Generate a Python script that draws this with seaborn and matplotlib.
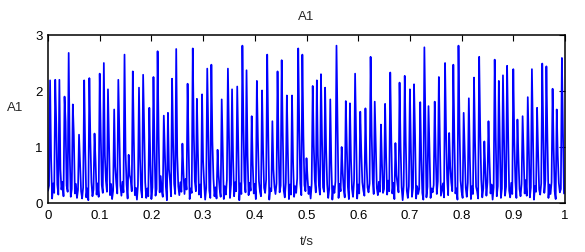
import numpy as np
import pandas as pd
import matplotlib
matplotlib.use("Agg")
import matplotlib.pyplot as plt
import seaborn as sns

# частота дискретизации и фон сигнала (шум около нуля)
fs = 500
baseline = [
    0.22, 0.31, 0.12, 0.28, 0.08, 0.35, 0.18, 0.26, 0.10, 0.33, 0.15, 0.29, 0.06, 0.24, 0.38, 0.12, 0.27, 0.09, 0.31, 0.20, 0.14, 0.36, 0.11, 0.25, 0.07,
    0.30, 0.17, 0.34, 0.09, 0.23, 0.13, 0.39, 0.21, 0.08, 0.28, 0.16, 0.33, 0.10, 0.26, 0.05, 0.31, 0.19, 0.37, 0.12, 0.24, 0.09, 0.29, 0.15, 0.35, 0.11,
    0.27, 0.06, 0.32, 0.18, 0.25, 0.12, 0.40, 0.20, 0.09, 0.30, 0.14, 0.34, 0.07, 0.22, 0.28, 0.11, 0.36, 0.17, 0.26, 0.08, 0.31, 0.13, 0.38, 0.19, 0.10,
    0.24, 0.33, 0.08, 0.29, 0.16, 0.42, 0.21, 0.11, 0.35, 0.14, 0.27, 0.06, 0.32, 0.18, 0.45, 0.23, 0.10, 0.30, 0.15, 0.37, 0.09, 0.26, 0.12, 0.34, 0.20,
    0.07, 0.28, 0.17, 0.41, 0.13, 0.25, 0.09, 0.33, 0.19, 0.48, 0.22, 0.11, 0.36, 0.15, 0.29, 0.05, 0.31, 0.18, 0.40, 0.12, 0.27, 0.08, 0.34, 0.16, 0.23,
    0.10, 0.30, 0.14, 0.37, 0.20, 0.09, 0.28, 0.16, 0.43, 0.24, 0.11, 0.35, 0.07, 0.26, 0.18, 0.32, 0.13, 0.39, 0.21, 0.08, 0.29, 0.15, 0.33, 0.10, 0.25,
    0.17, 0.36, 0.06, 0.27, 0.14, 0.31, 0.22, 0.09, 0.34, 0.19, 0.44, 0.12, 0.28, 0.08, 0.38, 0.16, 0.25, 0.11, 0.32, 0.20, 0.07, 0.30, 0.15, 0.41, 0.13,
    0.26, 0.09, 0.33, 0.18, 0.24, 0.12, 0.37, 0.21, 0.10, 0.29, 0.05, 0.35, 0.16, 0.27, 0.13, 0.40, 0.19, 0.08, 0.31, 0.14, 0.36, 0.22, 0.11, 0.28, 0.17,
    0.34, 0.07, 0.25, 0.15, 0.39, 0.20, 0.12, 0.30, 0.09, 0.27, 0.18, 0.42, 0.14, 0.33, 0.06, 0.26, 0.21, 0.37, 0.10, 0.29, 0.16, 0.35, 0.08, 0.24, 0.19,
    0.31, 0.13, 0.46, 0.22, 0.10, 0.36, 0.17, 0.28, 0.07, 0.33, 0.15, 0.40, 0.20, 0.11, 0.30, 0.18, 0.44, 0.24, 0.09, 0.35, 0.14, 0.27, 0.06, 0.32, 0.21,
    0.12, 0.38, 0.16, 0.29, 0.08, 0.34, 0.23, 0.11, 0.41, 0.19, 0.26, 0.07, 0.31, 0.15, 0.37, 0.10, 0.28, 0.20, 0.45, 0.13, 0.33, 0.09, 0.25, 0.17, 0.36,
    0.06, 0.30, 0.18, 0.39, 0.12, 0.27, 0.09, 0.34, 0.21, 0.14, 0.43, 0.24, 0.10, 0.32, 0.16, 0.29, 0.07, 0.36, 0.19, 0.25, 0.11, 0.40, 0.15, 0.28, 0.08,
    0.33, 0.17, 0.26, 0.10, 0.37, 0.22, 0.13, 0.31, 0.06, 0.28, 0.19, 0.35, 0.11, 0.24, 0.42, 0.16, 0.30, 0.09, 0.27, 0.14, 0.38, 0.20, 0.12, 0.34, 0.18,
    0.25, 0.08, 0.32, 0.15, 0.40, 0.21, 0.10, 0.29, 0.17, 0.36, 0.07, 0.26, 0.13, 0.33, 0.19, 0.44, 0.12, 0.28, 0.05, 0.31, 0.16, 0.37, 0.22, 0.09, 0.30,
    0.14, 0.35, 0.11, 0.27, 0.20, 0.38, 0.08, 0.30, 0.16, 0.25, 0.12, 0.41, 0.18, 0.06, 0.33, 0.23, 0.10, 0.29, 0.15, 0.36, 0.09, 0.26, 0.19, 0.32, 0.11,
    0.28, 0.16, 0.39, 0.07, 0.31, 0.13, 0.24, 0.35, 0.10, 0.27, 0.18, 0.43, 0.14, 0.30, 0.08, 0.37, 0.21, 0.12, 0.33, 0.17, 0.26, 0.06, 0.34, 0.15, 0.40,
    0.20, 0.09, 0.32, 0.14, 0.27, 0.11, 0.36, 0.18, 0.25, 0.07, 0.30, 0.16, 0.38, 0.12, 0.29, 0.21, 0.08, 0.34, 0.15, 0.42, 0.10, 0.26, 0.19, 0.31, 0.13,
    0.37, 0.11, 0.24, 0.17, 0.33, 0.06, 0.28, 0.20, 0.40, 0.12, 0.30, 0.15, 0.35, 0.09, 0.26, 0.18, 0.44, 0.13, 0.29, 0.07, 0.32, 0.22, 0.10, 0.36, 0.16,
    0.27, 0.14, 0.38, 0.09, 0.31, 0.19, 0.25, 0.12, 0.34, 0.08, 0.29, 0.17, 0.41, 0.13, 0.23, 0.36, 0.10, 0.28, 0.16, 0.33, 0.06, 0.30, 0.20, 0.39, 0.11,
    0.24, 0.15, 0.35, 0.08, 0.29, 0.18, 0.40, 0.12, 0.26, 0.09, 0.33, 0.16, 0.37, 0.10, 0.28, 0.21, 0.07, 0.31, 0.14, 0.36, 0.19, 0.25, 0.11, 0.32, 0.17,
]

# моменты импульсов (с) и их амплитуды
spike_t = [
    0.0045, 0.014, 0.0226, 0.031, 0.041, 0.049, 0.060, 0.070, 0.080, 0.090,
    0.099, 0.108, 0.117, 0.128, 0.137, 0.147, 0.157, 0.165, 0.175, 0.183,
    0.195, 0.204, 0.213, 0.223, 0.231, 0.240, 0.249, 0.259, 0.270, 0.280,
    0.289, 0.298, 0.308, 0.317, 0.327, 0.336, 0.347, 0.356, 0.366, 0.375,
    0.385, 0.394, 0.404, 0.414, 0.424, 0.434, 0.443, 0.453, 0.462, 0.472,
    0.484, 0.491, 0.501, 0.511, 0.519, 0.528, 0.537, 0.546, 0.558, 0.567,
    0.576, 0.585, 0.594, 0.605, 0.614, 0.625, 0.633, 0.644, 0.652, 0.662,
    0.672, 0.681, 0.690, 0.700, 0.709, 0.719, 0.728, 0.737, 0.747, 0.757,
    0.767, 0.776, 0.784, 0.794, 0.804, 0.814, 0.825, 0.834, 0.843, 0.852,
    0.863, 0.872, 0.880, 0.889, 0.899, 0.908, 0.918, 0.928, 0.937, 0.946,
    0.955, 0.964, 0.977, 0.985, 0.994,
]
spike_peak = [
    2.19, 2.20, 2.20, 1.90, 2.68, 1.76, 1.22, 2.19, 2.23, 1.24,
    2.31, 2.50, 2.03, 1.67, 2.20, 2.65, 0.86, 2.35, 2.06, 2.29,
    1.70, 2.25, 2.71, 1.56, 1.61, 2.22, 2.75, 1.06, 2.13, 2.76,
    1.86, 1.94, 2.40, 2.47, 0.95, 1.85, 2.40, 2.03, 2.08, 2.81,
    2.37, 1.55, 2.18, 2.01, 2.65, 1.46, 2.35, 2.55, 1.92, 1.92,
    2.76, 2.65, 0.80, 2.09, 2.19, 2.30, 2.06, 1.85, 2.81, 1.00,
    1.82, 1.78, 2.31, 1.63, 1.69, 2.61, 1.81, 1.40, 1.77, 2.33,
    1.07, 2.15, 2.27, 2.03, 2.12, 1.80, 2.78, 1.73, 1.81, 2.25,
    2.50, 1.25, 2.47, 2.81, 1.61, 1.87, 2.24, 2.61, 1.10, 1.46,
    2.56, 2.18, 2.28, 2.45, 2.39, 1.49, 1.55, 1.89, 2.39, 1.70,
    2.49, 2.44, 2.04, 1.67, 2.59,
]
# второй, меньший выброс сразу после импульса
spike_shoulder = [
    0.80, 1.40, 0.60, 1.45, 0.90, 1.20, 0.70, 0.95, 1.10, 0.75,
    1.25, 0.85, 1.05, 0.65, 1.30, 0.90, 0.50, 1.15, 0.80, 1.35,
    0.70, 1.00, 1.20, 0.95, 0.60, 1.10, 0.85, 0.55, 1.00, 1.25,
    0.90, 0.75, 1.30, 1.10, 0.50, 0.95, 1.20, 0.80, 1.05, 1.40,
    0.85, 0.70, 1.15, 0.95, 1.25, 0.60, 1.00, 1.30, 0.90, 0.75,
    1.35, 1.20, 0.45, 1.05, 0.85, 1.15, 0.95, 0.70, 1.45, 0.55,
    1.00, 0.80, 1.20, 0.90, 0.75, 1.25, 1.05, 0.70, 0.85, 1.15,
    0.50, 1.00, 1.10, 0.95, 1.20, 0.80, 1.40, 0.90, 0.85, 1.10,
    1.25, 0.65, 1.15, 1.35, 0.95, 0.80, 1.10, 1.30, 0.55, 0.75,
    1.20, 1.05, 1.15, 1.25, 1.10, 0.80, 0.85, 0.95, 1.20, 0.90,
    1.25, 1.15, 1.00, 0.85, 1.30,
]

# собираем сигнал
a1 = np.array(baseline, dtype=float)
for t0, pk, sh in zip(spike_t, spike_peak, spike_shoulder):
    i = int(round(t0 * fs))
    a1[i] = pk
    if i + 1 < len(a1):
        a1[i + 1] = sh

df = pd.DataFrame({"t": np.arange(len(a1)) / fs, "A1": a1})

sns.set_style("white")
plt.rcParams["font.family"] = ["Liberation Sans", "DejaVu Sans"]

fig = plt.figure(figsize=(5.85, 2.53), dpi=100)
ax = fig.add_axes([48 / 585, 1 - 204 / 253, 517 / 585, 168 / 253])

sns.lineplot(data=df, x="t", y="A1", ax=ax, color="#0000ff", linewidth=1.25,
             estimator=None, sort=False)

ax.set_xlim(0, 1)
ax.set_ylim(0, 3)
ax.set_xticks(np.arange(0, 1.01, 0.1))
ax.set_xticklabels(["0", "0.1", "0.2", "0.3", "0.4", "0.5", "0.6", "0.7", "0.8", "0.9", "1"])
ax.set_yticks([0, 1, 2, 3])

ax.tick_params(direction="in", top=True, right=True, length=4, width=0.8,
               labelsize=9.5, pad=4, colors="black")
for s in ax.spines.values():
    s.set_color("black")
    s.set_linewidth(1.1)

ax.set_xlabel("t/s", fontsize=9.5)
ax.xaxis.set_label_coords(0.5, -0.19)
ax.set_ylabel("A1", fontsize=9.5, rotation=0, va="center", ha="center")
ax.yaxis.set_label_coords(-0.064, 0.571)
ax.text(0.5, 1.115, "A1", transform=ax.transAxes, ha="center", va="center", fontsize=9.5)

fig.savefig("out.png", dpi=100)
